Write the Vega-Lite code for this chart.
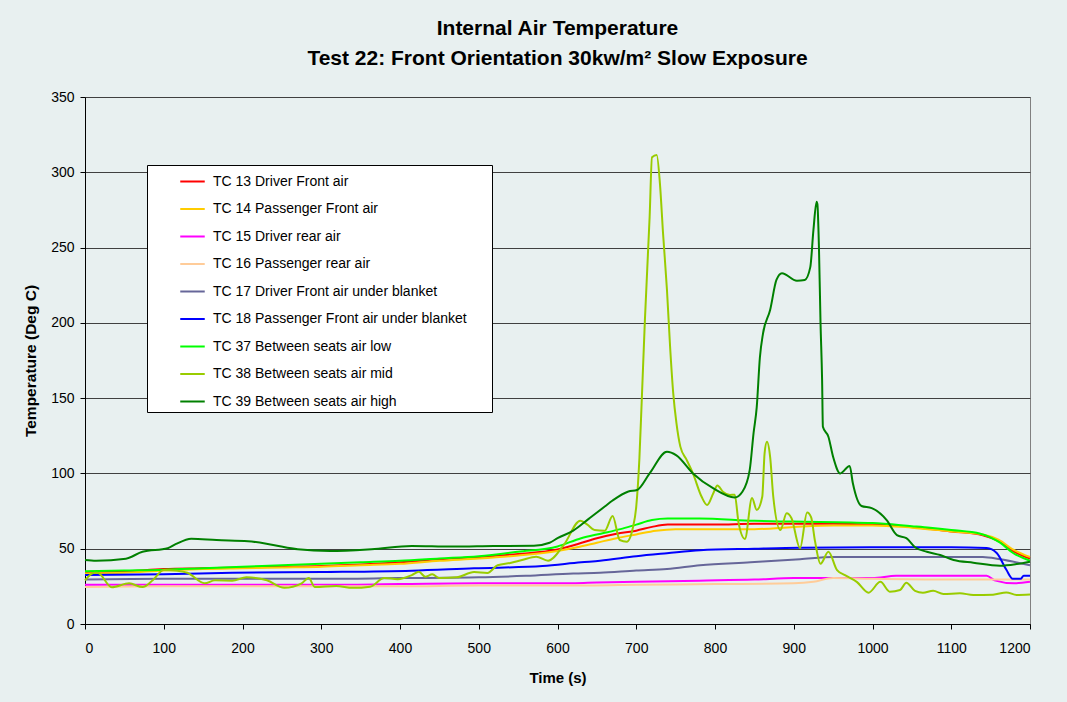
{
 "$schema": "https://vega.github.io/schema/vega-lite/v6.json",
 "width": 945, "height": 527,
 "autosize": {"type": "none"},
 "padding": {"left": 85, "top": 97, "right": 37, "bottom": 78},
 "background": "#E8F0F0",
 "title": {"text": ["Internal Air Temperature", "Test 22: Front Orientation 30kw/m² Slow Exposure"], "font": "Liberation Sans", "fontSize": 21, "fontWeight": "bold", "color": "#000000", "lineHeight": 30, "offset": 21, "anchor": "middle"},
 "config": {"view": {"stroke": "#808080", "strokeWidth": 1, "fill": "#E8F0F0"}, "font": "Liberation Sans"},
 "data": {"values": [
  {"k":13,"t":0,"v":34.5},{"k":13,"t":50,"v":35},{"k":13,"t":100,"v":36.5},{"k":13,"t":150,"v":37},{"k":13,"t":200,"v":37.5},{"k":13,"t":250,"v":38},{"k":13,"t":300,"v":38.5},{"k":13,"t":350,"v":39.5},{"k":13,"t":400,"v":41},{"k":13,"t":450,"v":43},{"k":13,"t":500,"v":44.5},{"k":13,"t":550,"v":46.5},{"k":13,"t":600,"v":49.5},{"k":13,"t":625,"v":53},{"k":13,"t":650,"v":57},{"k":13,"t":675,"v":60},{"k":13,"t":700,"v":62},{"k":13,"t":720,"v":64.5},{"k":13,"t":740,"v":66},{"k":13,"t":800,"v":66},{"k":13,"t":850,"v":66.5},{"k":13,"t":900,"v":66.5},{"k":13,"t":950,"v":66.5},{"k":13,"t":1000,"v":66},{"k":13,"t":1050,"v":64.5},{"k":13,"t":1100,"v":61.5},{"k":13,"t":1140,"v":59},{"k":13,"t":1160,"v":55},{"k":13,"t":1180,"v":48},{"k":13,"t":1200,"v":43.5},
  {"k":14,"t":0,"v":33.5},{"k":14,"t":50,"v":34},{"k":14,"t":100,"v":35.5},{"k":14,"t":150,"v":36.5},{"k":14,"t":200,"v":37},{"k":14,"t":250,"v":37.5},{"k":14,"t":300,"v":38},{"k":14,"t":350,"v":39},{"k":14,"t":400,"v":40},{"k":14,"t":450,"v":42},{"k":14,"t":500,"v":43.5},{"k":14,"t":550,"v":45.5},{"k":14,"t":600,"v":48.5},{"k":14,"t":625,"v":51},{"k":14,"t":650,"v":54},{"k":14,"t":675,"v":57},{"k":14,"t":700,"v":59.5},{"k":14,"t":725,"v":62},{"k":14,"t":750,"v":63},{"k":14,"t":800,"v":63},{"k":14,"t":850,"v":63},{"k":14,"t":900,"v":64.5},{"k":14,"t":950,"v":65.5},{"k":14,"t":1000,"v":65.5},{"k":14,"t":1050,"v":64},{"k":14,"t":1100,"v":61.5},{"k":14,"t":1140,"v":59.5},{"k":14,"t":1160,"v":56},{"k":14,"t":1180,"v":49},{"k":14,"t":1200,"v":44.5},
  {"k":15,"t":0,"v":26},{"k":15,"t":100,"v":26},{"k":15,"t":200,"v":26},{"k":15,"t":300,"v":26},{"k":15,"t":400,"v":26.5},{"k":15,"t":500,"v":27},{"k":15,"t":600,"v":27},{"k":15,"t":650,"v":27.5},{"k":15,"t":700,"v":28},{"k":15,"t":780,"v":28.8},{"k":15,"t":850,"v":29.5},{"k":15,"t":900,"v":30.5},{"k":15,"t":1000,"v":30.5},{"k":15,"t":1030,"v":32},{"k":15,"t":1100,"v":32},{"k":15,"t":1145,"v":32},{"k":15,"t":1155,"v":29},{"k":15,"t":1180,"v":27},{"k":15,"t":1200,"v":28},
  {"k":16,"t":0,"v":24.5},{"k":16,"t":100,"v":25},{"k":16,"t":200,"v":25},{"k":16,"t":300,"v":25},{"k":16,"t":400,"v":25},{"k":16,"t":500,"v":25.5},{"k":16,"t":600,"v":25.5},{"k":16,"t":700,"v":26},{"k":16,"t":800,"v":26.5},{"k":16,"t":900,"v":27},{"k":16,"t":925,"v":28},{"k":16,"t":950,"v":30.5},{"k":16,"t":1000,"v":30},{"k":16,"t":1100,"v":29.5},{"k":16,"t":1150,"v":29.5},{"k":16,"t":1200,"v":29.5},
  {"k":17,"t":0,"v":29.5},{"k":17,"t":100,"v":30},{"k":17,"t":200,"v":30},{"k":17,"t":300,"v":30},{"k":17,"t":400,"v":30.5},{"k":17,"t":500,"v":31},{"k":17,"t":560,"v":32},{"k":17,"t":620,"v":33.5},{"k":17,"t":654,"v":34},{"k":17,"t":700,"v":35.5},{"k":17,"t":739,"v":36.5},{"k":17,"t":781,"v":39},{"k":17,"t":845,"v":41},{"k":17,"t":908,"v":43},{"k":17,"t":950,"v":44.5},{"k":17,"t":1000,"v":44.5},{"k":17,"t":1100,"v":44.5},{"k":17,"t":1140,"v":44.5},{"k":17,"t":1162,"v":43},{"k":17,"t":1200,"v":39},
  {"k":18,"t":0,"v":32.5},{"k":18,"t":100,"v":33},{"k":18,"t":187,"v":34},{"k":18,"t":301,"v":34.5},{"k":18,"t":415,"v":35.4},{"k":18,"t":494,"v":37},{"k":18,"t":581,"v":38.5},{"k":18,"t":630,"v":41},{"k":18,"t":654,"v":42},{"k":18,"t":700,"v":45},{"k":18,"t":739,"v":47},{"k":18,"t":781,"v":49},{"k":18,"t":850,"v":50},{"k":18,"t":908,"v":50.7},{"k":18,"t":1000,"v":51},{"k":18,"t":1100,"v":51},{"k":18,"t":1145,"v":50.5},{"k":18,"t":1158,"v":47},{"k":18,"t":1170,"v":36},{"k":18,"t":1178,"v":30},{"k":18,"t":1188,"v":30},{"k":18,"t":1192,"v":32},{"k":18,"t":1200,"v":32},
  {"k":37,"t":0,"v":35},{"k":37,"t":50,"v":35.5},{"k":37,"t":100,"v":36},{"k":37,"t":150,"v":37},{"k":37,"t":200,"v":38},{"k":37,"t":250,"v":39},{"k":37,"t":300,"v":40},{"k":37,"t":350,"v":41},{"k":37,"t":400,"v":42},{"k":37,"t":450,"v":43.5},{"k":37,"t":500,"v":45},{"k":37,"t":550,"v":48},{"k":37,"t":600,"v":51.5},{"k":37,"t":630,"v":57},{"k":37,"t":655,"v":60},{"k":37,"t":680,"v":63},{"k":37,"t":700,"v":66},{"k":37,"t":720,"v":69},{"k":37,"t":740,"v":70},{"k":37,"t":780,"v":70},{"k":37,"t":850,"v":68.5},{"k":37,"t":900,"v":68},{"k":37,"t":1000,"v":67},{"k":37,"t":1050,"v":65},{"k":37,"t":1073,"v":64},{"k":37,"t":1100,"v":62.5},{"k":37,"t":1137,"v":60},{"k":37,"t":1162,"v":54},{"k":37,"t":1179,"v":47},{"k":37,"t":1200,"v":42},
  {"k":38,"t":0,"v":29},{"k":38,"t":12,"v":34},{"k":38,"t":16,"v":34},{"k":38,"t":34,"v":24.4},{"k":38,"t":56,"v":27},{"k":38,"t":73,"v":24.5},{"k":38,"t":86,"v":29},{"k":38,"t":100,"v":35.9},{"k":38,"t":117,"v":35.4},{"k":38,"t":130,"v":34},{"k":38,"t":152,"v":27},{"k":38,"t":165,"v":29},{"k":38,"t":187,"v":28.8},{"k":38,"t":205,"v":31},{"k":38,"t":231,"v":29},{"k":38,"t":253,"v":24},{"k":38,"t":275,"v":27},{"k":38,"t":284,"v":30.5},{"k":38,"t":292,"v":24.5},{"k":38,"t":319,"v":25.2},{"k":38,"t":340,"v":24},{"k":38,"t":362,"v":24.8},{"k":38,"t":380,"v":30.5},{"k":38,"t":397,"v":29.8},{"k":38,"t":415,"v":32.5},{"k":38,"t":424,"v":34.7},{"k":38,"t":432,"v":31.4},{"k":38,"t":441,"v":33},{"k":38,"t":450,"v":30.5},{"k":38,"t":472,"v":31},{"k":38,"t":494,"v":34.5},{"k":38,"t":511,"v":33.9},{"k":38,"t":524,"v":39},{"k":38,"t":540,"v":40.5},{"k":38,"t":555,"v":42.5},{"k":38,"t":573,"v":44.7},{"k":38,"t":588,"v":42},{"k":38,"t":608,"v":52.5},{"k":38,"t":629,"v":68.6},{"k":38,"t":638,"v":66},{"k":38,"t":647,"v":62.4},{"k":38,"t":660,"v":62},{"k":38,"t":670,"v":71.7},{"k":38,"t":679,"v":55.8},{"k":38,"t":688,"v":54.7},{"k":38,"t":696,"v":64.6},{"k":38,"t":700,"v":78},{"k":38,"t":704,"v":110},{"k":38,"t":707,"v":148.8},{"k":38,"t":711,"v":202},{"k":38,"t":717,"v":270.5},{"k":38,"t":720,"v":310},{"k":38,"t":726,"v":311.5},{"k":38,"t":730,"v":293},{"k":38,"t":734,"v":259.7},{"k":38,"t":739,"v":221.8},{"k":38,"t":743,"v":184},{"k":38,"t":747,"v":153},{"k":38,"t":751,"v":133.5},{"k":38,"t":756,"v":117.8},{"k":38,"t":764,"v":109},{"k":38,"t":772,"v":100},{"k":38,"t":783,"v":84.5},{"k":38,"t":790,"v":79},{"k":38,"t":798,"v":87},{"k":38,"t":803,"v":92},{"k":38,"t":810,"v":87.9},{"k":38,"t":819,"v":85.7},{"k":38,"t":825,"v":85.9},{"k":38,"t":830,"v":67},{"k":38,"t":838,"v":56.5},{"k":38,"t":847,"v":83.7},{"k":38,"t":853,"v":75.7},{"k":38,"t":860,"v":84.5},{"k":38,"t":863,"v":113.5},{"k":38,"t":866,"v":121},{"k":38,"t":870,"v":111},{"k":38,"t":874,"v":84.5},{"k":38,"t":883,"v":62.4},{"k":38,"t":891,"v":73.5},{"k":38,"t":897,"v":70.4},{"k":38,"t":908,"v":50.5},{"k":38,"t":917,"v":74},{"k":38,"t":922,"v":71},{"k":38,"t":927,"v":55},{"k":38,"t":934,"v":40},{"k":38,"t":944,"v":48},{"k":38,"t":955,"v":35.8},{"k":38,"t":965,"v":32.5},{"k":38,"t":980,"v":28},{"k":38,"t":995,"v":20.8},{"k":38,"t":1010,"v":28},{"k":38,"t":1022,"v":21.5},{"k":38,"t":1035,"v":22.6},{"k":38,"t":1043,"v":27.4},{"k":38,"t":1054,"v":22},{"k":38,"t":1064,"v":20.8},{"k":38,"t":1077,"v":22},{"k":38,"t":1090,"v":19.9},{"k":38,"t":1111,"v":20.4},{"k":38,"t":1128,"v":19.3},{"k":38,"t":1153,"v":19.5},{"k":38,"t":1170,"v":21},{"k":38,"t":1183,"v":19.3},{"k":38,"t":1200,"v":19.6},
  {"k":39,"t":0,"v":42.5},{"k":39,"t":14,"v":42},{"k":39,"t":52,"v":43.4},{"k":39,"t":73,"v":48},{"k":39,"t":105,"v":50.3},{"k":39,"t":115,"v":53},{"k":39,"t":135,"v":56.7},{"k":39,"t":167,"v":55.8},{"k":39,"t":207,"v":55},{"k":39,"t":239,"v":52.5},{"k":39,"t":270,"v":49.7},{"k":39,"t":311,"v":48.5},{"k":39,"t":364,"v":49.7},{"k":39,"t":415,"v":51.8},{"k":39,"t":466,"v":51.4},{"k":39,"t":519,"v":51.8},{"k":39,"t":570,"v":52},{"k":39,"t":590,"v":54},{"k":39,"t":600,"v":57},{"k":39,"t":620,"v":62},{"k":39,"t":640,"v":70},{"k":39,"t":660,"v":78},{"k":39,"t":670,"v":82},{"k":39,"t":690,"v":88},{"k":39,"t":701,"v":89},{"k":39,"t":717,"v":100},{"k":39,"t":739,"v":114.4},{"k":39,"t":751,"v":112},{"k":39,"t":772,"v":100},{"k":39,"t":798,"v":90},{"k":39,"t":825,"v":84},{"k":39,"t":835,"v":88},{"k":39,"t":844,"v":102},{"k":39,"t":849,"v":127},{"k":39,"t":853,"v":144},{"k":39,"t":857,"v":177},{"k":39,"t":861,"v":193},{"k":39,"t":870,"v":208.5},{"k":39,"t":878,"v":228.5},{"k":39,"t":885,"v":233},{"k":39,"t":904,"v":228},{"k":39,"t":914,"v":228.5},{"k":39,"t":921,"v":237},{"k":39,"t":925,"v":261.7},{"k":39,"t":929,"v":280.5},{"k":39,"t":930,"v":279},{"k":39,"t":932,"v":250},{"k":39,"t":934,"v":200},{"k":39,"t":936,"v":162},{"k":39,"t":937,"v":131},{"k":39,"t":944,"v":124.4},{"k":39,"t":950,"v":111},{"k":39,"t":959,"v":100},{"k":39,"t":971,"v":105},{"k":39,"t":975,"v":93.6},{"k":39,"t":986,"v":78.4},{"k":39,"t":999,"v":77},{"k":39,"t":1018,"v":69},{"k":39,"t":1031,"v":59},{"k":39,"t":1043,"v":57},{"k":39,"t":1054,"v":51},{"k":39,"t":1069,"v":48},{"k":39,"t":1086,"v":45.8},{"k":39,"t":1103,"v":42.5},{"k":39,"t":1128,"v":40.7},{"k":39,"t":1162,"v":38.7},{"k":39,"t":1183,"v":39.8},{"k":39,"t":1200,"v":41.4}
 ]},
 "transform": [{"lookup": "k", "from": {"data": {"values": [
   {"k":13,"name":"TC 13 Driver Front air"},
   {"k":14,"name":"TC 14 Passenger Front air"},
   {"k":15,"name":"TC 15 Driver rear air"},
   {"k":16,"name":"TC 16 Passenger rear air"},
   {"k":17,"name":"TC 17 Driver Front air under blanket"},
   {"k":18,"name":"TC 18 Passenger Front air under blanket"},
   {"k":37,"name":"TC 37 Between seats air low"},
   {"k":38,"name":"TC 38 Between seats air mid"},
   {"k":39,"name":"TC 39 Between seats air high"}
 ]}, "key": "k", "fields": ["name"]}}],
 "mark": {"type": "line", "strokeWidth": 2, "interpolate": "monotone"},
 "encoding": {
  "x": {"field": "t", "type": "quantitative", "scale": {"domain": [0, 1200], "nice": false},
   "axis": {"values": [0,100,200,300,400,500,600,700,800,900,1000,1100,1200], "format": "d", "title": "Time (s)", "grid": false, "tickSize": 5, "tickColor": "#000000", "domainColor": "#000000", "labelFont": "Liberation Sans", "labelFontSize": 14, "labelColor": "#000000", "labelPadding": 12, "titleFont": "Liberation Sans", "titleFontSize": 15, "titleFontWeight": "bold", "titleColor": "#000000", "titlePadding": 15}},
  "y": {"field": "v", "type": "quantitative", "scale": {"domain": [0, 350], "nice": false},
   "axis": {"values": [0,50,100,150,200,250,300,350], "title": "Temperature (Deg C)", "grid": true, "gridColor": "#404040", "gridWidth": 1, "tickSize": 5, "tickColor": "#000000", "domainColor": "#000000", "labelFont": "Liberation Sans", "labelFontSize": 14, "labelColor": "#000000", "labelPadding": 6, "titleFont": "Liberation Sans", "titleFontSize": 15.5, "titleFontWeight": "bold", "titleColor": "#000000", "titlePadding": 12}},
  "color": {"field": "name", "type": "nominal",
   "scale": {"domain": ["TC 13 Driver Front air","TC 14 Passenger Front air","TC 15 Driver rear air","TC 16 Passenger rear air","TC 17 Driver Front air under blanket","TC 18 Passenger Front air under blanket","TC 37 Between seats air low","TC 38 Between seats air mid","TC 39 Between seats air high"],
    "range": ["#FF0000","#FFCC00","#FF00FF","#FFCC99","#666699","#0000FF","#00FF00","#99CC00","#008000"]},
   "legend": {"title": " ", "titleOrient": "right", "titlePadding": 22, "titleFontSize": 4, "orient": "none", "legendX": 62, "legendY": 68, "fillColor": "#FFFFFF", "strokeColor": "#000000", "padding": 3, "symbolType": "stroke", "symbolStrokeWidth": 2, "symbolSize": 600, "symbolOffset": 29, "labelOffset": 7, "labelFont": "Liberation Sans", "labelFontSize": 14, "labelColor": "#000000", "labelLimit": 400, "rowPadding": 6.5}}
 }
}
